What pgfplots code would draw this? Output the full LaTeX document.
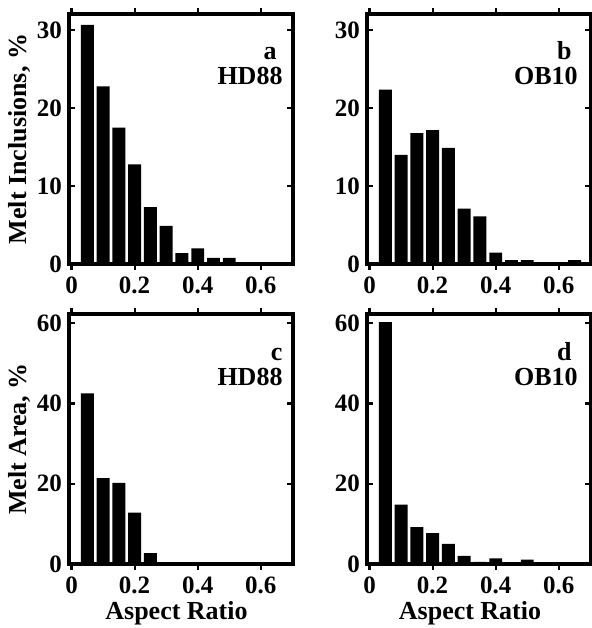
\documentclass[border=0pt]{standalone}
\usepackage{pgfplots}
\pgfplotsset{compat=1.18}
\usepackage{fontspec}
\setmainfont{Liberation Serif}
\pgfplotsset{
  panel/.style={
    scale only axis, width=112pt, height=125pt, anchor=south west,
    xmin=-0.008, xmax=0.702, ymin=0,
    xtick={0,0.2,0.4,0.6},
    xticklabels={0,0.2,0.4,0.6},
    tick pos=both, tick align=inside,
    major tick length=3pt,
    every tick/.style={black, line width=1.1pt},
    axis line style={line width=1.7pt},
    /pgf/number format/assume math mode=true,
    tick label style={font=\fontsize{12.5}{14}\selectfont\bfseries},
    every axis y label/.style={at={(axis description cs:-0.219,0.5)}, anchor=center, rotate=90, font=\fontsize{13}{15}\selectfont\bfseries},
    every axis x label/.style={at={(axis description cs:0.48,-0.224)}, anchor=base, font=\fontsize{13}{15}\selectfont\bfseries},
    ybar, bar width=0.041,
    clip=false,
  },
}
\tikzset{lab/.style={font=\fontsize{13}{15}\selectfont\bfseries, inner sep=0pt, anchor=base east}}
\begin{document}%
\begin{tikzpicture}
% panel a
\begin{axis}[panel, at={(34.5pt,182pt)}, ymax=32.1, ytick={0,10,20,30},
  ylabel={Melt Inclusions, \%}]
\addplot[fill=black, draw=none] coordinates {
(0.05,30.7) (0.10,22.8) (0.15,17.5) (0.20,12.8) (0.25,7.3)
(0.30,4.9) (0.35,1.4) (0.40,2.0) (0.45,0.8) (0.50,0.8)};
\node[lab] at (axis description cs:0.929,0.816) {a};
\node[lab] at (axis description cs:0.955,0.716) {HD88};
\end{axis}
% panel b
\begin{axis}[panel, at={(183.5pt,182pt)}, ymax=32.1, ytick={0,10,20,30}]
\addplot[fill=black, draw=none] coordinates {
(0.05,22.4) (0.10,14.0) (0.15,16.8) (0.20,17.2) (0.25,14.9)
(0.30,7.1) (0.35,6.1) (0.40,1.45) (0.45,0.5) (0.50,0.5)
(0.55,0) (0.60,0) (0.65,0.5)};
\node[lab] at (axis description cs:0.915,0.816) {b};
\node[lab] at (axis description cs:0.942,0.716) {OB10};
\end{axis}
% panel c
\begin{axis}[panel, at={(34.5pt,32pt)}, ymax=62.3, ytick={0,20,40,60},
  ylabel={Melt Area, \%}, xlabel={Aspect Ratio}]
\addplot[fill=black, draw=none] coordinates {
(0.05,42.5) (0.10,21.4) (0.15,20.2) (0.20,12.8) (0.25,2.7)};
\node[lab] at (axis description cs:0.955,0.816) {c};
\node[lab] at (axis description cs:0.955,0.716) {HD88};
\end{axis}
% panel d
\begin{axis}[panel, at={(183.5pt,32pt)}, ymax=62.3, ytick={0,20,40,60},
  xlabel={Aspect Ratio}, every axis x label/.append style={at={(axis description cs:0.46,-0.224)}}]
\addplot[fill=black, draw=none] coordinates {
(0.05,60.3) (0.10,14.8) (0.15,9.2) (0.20,7.7) (0.25,5.0)
(0.30,2.0) (0.35,0.5) (0.40,1.4) (0.45,0.3) (0.50,1.1)
(0.55,0.3) (0.60,0.2) (0.65,0.3)};
\node[lab] at (axis description cs:0.915,0.816) {d};
\node[lab] at (axis description cs:0.942,0.716) {OB10};
\end{axis}
\pgfresetboundingbox
\path[use as bounding box] (0,0) rectangle (295.5pt,314pt);
\end{tikzpicture}%
\end{document}
